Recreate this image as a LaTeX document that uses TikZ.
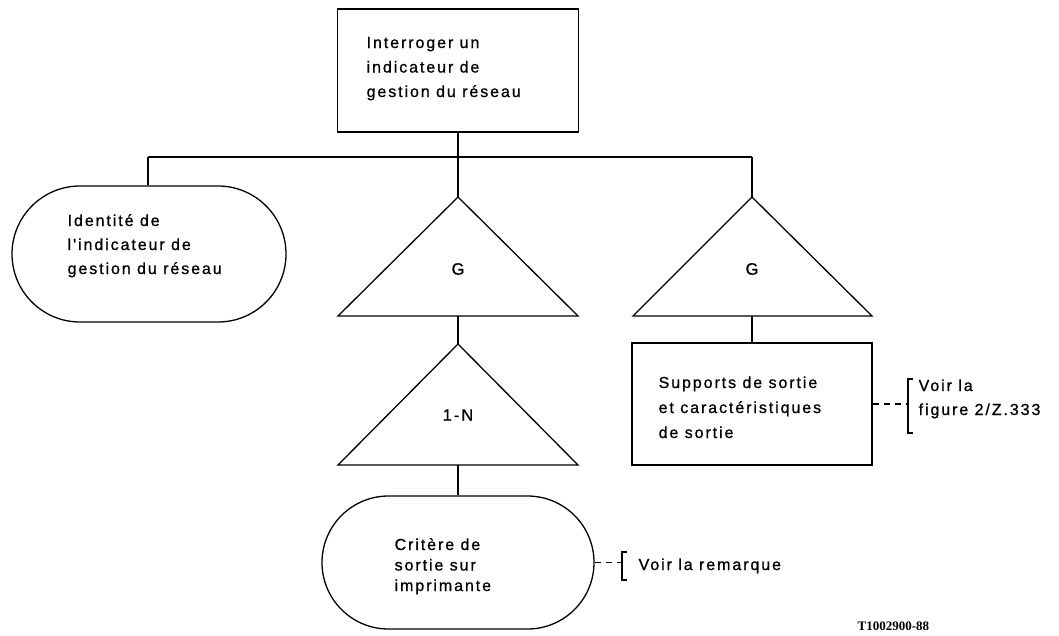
\documentclass[tikz,border=0pt]{standalone}
\usepackage{fontspec}
\setmainfont{Liberation Sans}
\newfontfamily\reffont[LetterSpace=12,FakeBold=0.8]{Liberation Sans}
\newfontfamily\codefont{Liberation Serif}
\usetikzlibrary{shapes.misc}
\begin{document}
\begin{tikzpicture}[x=1pt,y=-1pt,line width=1.3pt,
  boxst/.style={draw,rectangle,inner sep=0pt},
  stad/.style={draw,rounded rectangle,inner sep=0pt},
  lbl/.style={font=\reffont\fontsize{16}{24}\selectfont,align=left,inner sep=0pt,anchor=base west},
  tri/.style={font=\reffont\fontsize{16.5}{24}\selectfont,inner sep=0pt},
  dsh/.style={dash pattern=on 6pt off 5pt}]
\useasboundingbox (0,0) rectangle (1059,635);
\fill[white] (0,0) rectangle (1059,635);

% top box
\node[boxst,minimum width=241pt,minimum height=123pt] (top) at (458,70.5) {};
\node[lbl,font=\reffont\fontsize{16}{24.5}\selectfont] (toptxt) at (366,97) {Interroger un\\indicateur de\\gestion du réseau};

% bus
\coordinate (busL) at (148,157);
\coordinate (busR) at (752,157);
\draw (busL) -- (busR);

% left stadium
\node[stad,minimum width=274pt,minimum height=136pt] (stadL) at (149,254) {};
\node[lbl] (stadLtxt) at (67,274) {Identité de\\l'indicateur de\\gestion du réseau};

% middle triangle G
\coordinate (g1t) at (458,197);
\coordinate (g1b) at (458,316);
\draw (338,316) -- (g1t) -- (578,316) -- cycle;
\node[tri] (g1) at (458,269) {G};

% triangle 1-N
\coordinate (nt) at (458,344);
\coordinate (nb) at (458,465);
\draw (338,465) -- (nt) -- (578,465) -- cycle;
\node[tri] (n1) at (458,415) {1-N};

% bottom stadium
\node[stad,minimum width=272pt,minimum height=133pt] (stadB) at (458,562.5) {};
\node[lbl,font=\reffont\fontsize{16}{20.5}\selectfont] (stadBtxt) at (394,591) {Critère de\\sortie sur\\imprimante};

% right triangle G
\coordinate (g2t) at (752,197);
\coordinate (g2b) at (752,316);
\draw (633,316) -- (g2t) -- (872,316) -- cycle;
\node[tri] (g2) at (752,269) {G};

% right box
\node[boxst,minimum width=240pt,minimum height=122pt] (rbox) at (752,404) {};
\node[lbl,font=\reffont\fontsize{16}{25}\selectfont] (rboxtxt) at (658,438) {Supports de sortie\\et caractéristiques\\de sortie};

% connectors
\draw (top.south) -- (g1t);
\draw (busL) -- (busL |- stadL.north);
\draw (busR) -- (g2t);
\draw (g1b) -- (nt);
\draw (nb) -- (stadB.north);
\draw (g2b) -- (rbox.north);

% bracket notes
\coordinate (br1) at (908,404);
\draw (913,379) -- (908,379) -- (908,433) -- (913,433);
\draw[dsh] (rbox.east) -- (br1);
\node[lbl] (note1) at (918,415) {Voir la\\figure 2/Z.333};

\coordinate (br2) at (622,562.5);
\draw (627,552) -- (622,552) -- (622,580) -- (627,580);
\draw[dsh] (stadB.east) -- (br2);
\node[lbl] (note2) at (638,570) {Voir la remarque};

% reference code
\node[font=\codefont\bfseries\fontsize{13}{15}\selectfont,inner sep=0pt,anchor=base west] (code) at (857,630) {T1002900-88};
\end{tikzpicture}
\end{document}
